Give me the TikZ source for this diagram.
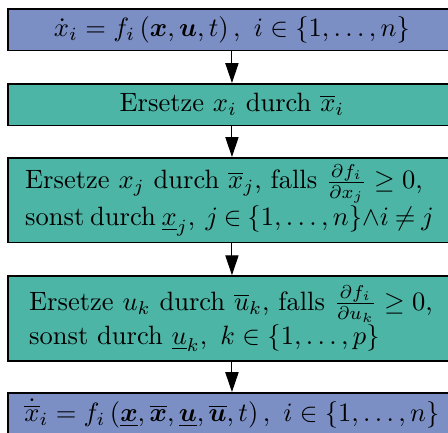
\documentclass[tikz,border=0pt]{standalone}
\usepackage{amsmath,amssymb}
\usepackage{xcolor}
\usepackage{tikz}
\usetikzlibrary{arrows.meta,positioning}
\definecolor{sysblau}{RGB}{123,143,196}
\definecolor{ersgruen}{RGB}{77,181,166}
\tikzset{
  box/.style={draw, line width=0.6pt, minimum width=169pt, inner xsep=2pt, inner ysep=0.5pt, align=left, anchor=north},
  sys/.style={box, fill=sysblau, minimum height=15.8pt},
  ers/.style={box, fill=ersgruen, minimum height=15.8pt},
  ers2/.style={box, fill=ersgruen, minimum height=32pt},
  arr/.style={-{Triangle[length=7.5pt, width=5pt]}, line width=0.4pt},
}

\begin{document}
\begin{tikzpicture}
\useasboundingbox (0,0) rectangle (169pt,-163pt);
\node[sys] (start) at (87.5pt,-3pt) {$\dot{x}_i = f_i\left(\boldsymbol{x},\boldsymbol{u},t\right),\ i\in\{1,\ldots,n\}$};
\node[ers] (xi) at (87.5pt,-31.3pt) {Ersetze $x_i$ durch $\overline{x}_i$};
\node[ers2, text width=156pt] (xj) at (87.5pt,-59.2pt) {Ersetze $x_j$ durch $\overline{x}_j$, falls $\frac{\partial f_i}{\partial x_j}\geq 0$,\\\mbox{\spaceskip=2.2pt\thickmuskip=4mu sonst durch $\underline{x}_j,\ j\in\{1,\ldots,n\}{\wedge}i\neq j$}};
\node[ers2, text width=153pt] (uk) at (87.5pt,-103.8pt) {Ersetze $u_k$ durch $\overline{u}_k$, falls $\frac{\partial f_i}{\partial u_k}\geq 0$,\\sonst durch $\underline{u}_k,\ k\in\{1,\ldots,p\}$};
\node[sys] (ende) at (87.5pt,-147.9pt) {$\dot{\overline{x}}_i = f_i\left(\underline{\boldsymbol{x}},\overline{\boldsymbol{x}},\underline{\boldsymbol{u}},\overline{\boldsymbol{u}},t\right),\ i\in\{1,\ldots,n\}$};
\foreach \a/\b in {start/xi, xi/xj, xj/uk, uk/ende}{\draw[arr] (\a) -- (\b);}
\end{tikzpicture}
\end{document}
